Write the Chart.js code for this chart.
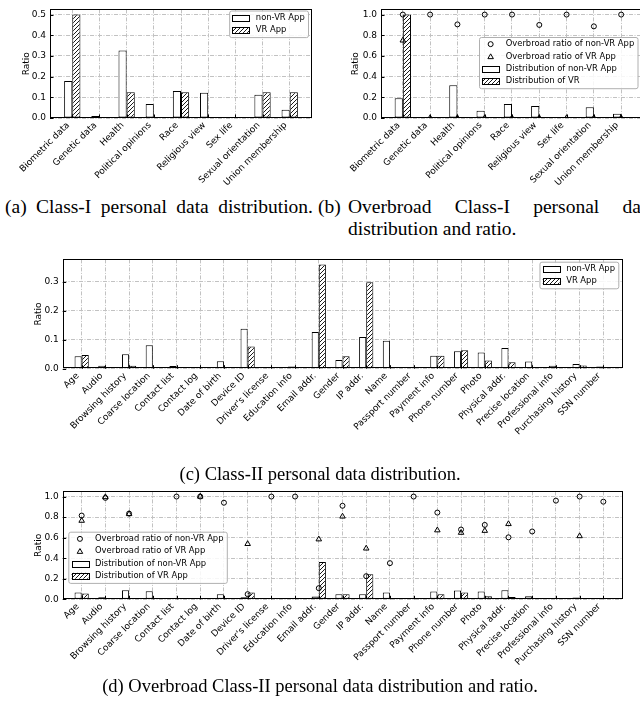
<!DOCTYPE html>
<html>
<head>
<meta charset="utf-8">
<script src="https://cdn.jsdelivr.net/npm/chart.js@4"></script>
<style>
  html, body { margin:0; padding:0; background:#fff; }
  body { width:640px; height:704px; overflow:hidden; position:relative; }
  canvas { position:absolute; }
  .cap { position:absolute; font-family:"Liberation Serif","Times New Roman",serif; font-size:18.5px; line-height:22px; color:#000; }
  .cap.top { font-size:19.5px; }
</style>
</head>
<body>
<canvas id="figA" width="320" height="195" style="left:0;top:0"></canvas>
<canvas id="figB" width="330" height="195" style="left:320px;top:0"></canvas>
<canvas id="figC" width="640" height="200" style="left:0;top:250px"></canvas>
<canvas id="figD" width="640" height="200" style="left:0;top:482px"></canvas>

<div class="cap top" style="left:5px;top:196px;width:308px;text-align:justify;text-align-last:justify;">(a) Class-I personal data distribution.</div>
<div class="cap top" style="left:318px;top:196px;">(b)</div>
<div class="cap top" style="left:348px;top:196px;width:307px;text-align:justify;">Overbroad Class-I personal data distribution and ratio.</div>
<div class="cap" style="left:0;top:463px;width:640px;text-align:center;">(c) Class-II personal data distribution.</div>
<div class="cap" style="left:0;top:675px;width:640px;text-align:center;">(d) Overbroad Class-II personal data distribution and ratio.</div>

<script>
// ---- data ---------------------------------------------------------------
const class1Cats = ['Biometric data','Genetic data','Health','Political opinions','Race',
  'Religious view','Sex life','Sexual orientation','Union membership'];
const class1NonVR = [0.179, 0.010, 0.326, 0.068, 0.131, 0.122, 0.005, 0.113, 0.040];
const class1VR    = [0.500, 0.000, 0.125, 0.000, 0.125, 0.000, 0.000, 0.125, 0.125];

const ob1NonVRDist  = [0.190, 0.010, 0.317, 0.070, 0.135, 0.115, 0.005, 0.105, 0.040];
const ob1VRDist     = [1.000, 0, 0, 0, 0, 0, 0, 0, 0];
const ob1NonVRRatio = [1.000, 1.000, 0.905, 1.000, 1.000, 0.900, 1.000, 0.886, 1.000];
const ob1VRRatio    = [0.750, 0, 0, 0, 0, 0, 0, 0, 0];

const class2Cats = ['Age','Audio','Browsing history','Coarse location','Contact list','Contact log',
  'Date of birth','Device ID',"Driver's license",'Education info','Email addr.','Gender','IP addr.',
  'Name','Passport number','Payment info','Phone number','Photo','Physical addr.','Precise location',
  'Professional info','Purchasing history','SSN number'];
const class2NonVR = [0.043,0.010,0.050,0.081,0.009,0.002,0.026,0.138,0.004,0.008,0.127,0.030,
  0.110,0.097,0.004,0.045,0.060,0.056,0.072,0.025,0.010,0.016,0.008];
const class2VR    = [0.047,0.003,0.010,0,0,0,0,0.077,0,0,0.360,0.043,
  0.299,0,0,0.045,0.064,0.028,0.022,0.002,0,0.011,0.002];

const ob2NonVRDist  = [0.067,0.019,0.088,0.079,0.012,0.002,0.050,0.019,0.003,0.008,0.028,0.050,
  0.050,0.067,0.002,0.076,0.086,0.076,0.087,0.030,0.010,0.018,0.007];
const ob2VRDist     = [0.057,0,0.010,0,0.003,0,0,0.067,0,0,0.362,0.050,
  0.244,0,0.003,0.048,0.067,0.030,0.022,0.002,0.002,0.008,0.002];
const ob2NonVRRatio = [0.815,0.987,0.834,null,1.000,1.000,0.940,0.050,1.000,1.000,0.108,0.910,
  0.225,0.352,1.000,0.844,0.679,0.724,0.603,0.660,0.960,1.000,0.950];
const ob2VRRatio    = [0.765,0.995,0.830,null,null,1.000,null,0.539,null,null,0.584,0.806,
  0.495,null,null,0.672,0.648,0.667,0.733,null,null,0.615,null];

const ticksSmall = [0, 0.1, 0.2, 0.3, 0.4, 0.5];
const ticksClass2 = [0, 0.1, 0.2, 0.3];
const ticksRatio = [0, 0.2, 0.4, 0.6, 0.8, 1.0];

// ---- styling helpers ----------------------------------------------------
Chart.defaults.font.family = '"DejaVu Sans", sans-serif';
Chart.defaults.font.size = 9;
Chart.defaults.color = '#000';
Chart.defaults.animation = false;

const GRID = '#c2c2c2', DASH = [4, 1.5, 1, 1.5];

function hatch() {
  const c = document.createElement('canvas'); c.width = c.height = 4;
  const g = c.getContext('2d');
  g.fillStyle = '#fff'; g.fillRect(0, 0, 4, 4);
  g.strokeStyle = '#000'; g.lineWidth = 0.9;
  g.beginPath();
  g.moveTo(0, 4); g.lineTo(4, 0);
  g.moveTo(-1, 1); g.lineTo(1, -1);
  g.moveTo(3, 5); g.lineTo(5, 3);
  g.stroke();
  return g.createPattern(c, 'repeat');
}
const HATCH = hatch();

const bars = (label, vals, fill) => ({ type:'bar', label, data: vals.map((v,i)=>({x:i, y:v})),
  backgroundColor: fill, borderColor:'#000', borderWidth:1, borderSkipped:false,
  categoryPercentage:0.6, barPercentage:1 });
const marks = (label, vals, style, r) => ({ type:'line', label, data: vals.map((v,i)=>({x:i, y:v})),
  showLine:false, pointStyle:style, pointRadius:r, pointHoverRadius:r, pointBorderWidth:1,
  pointBorderColor:'#000', pointBackgroundColor:'rgba(0,0,0,0)' });

/** frame round the plot + inward ticks (matplotlib look) */
const framePlugin = {
  id: 'frame',
  afterDatasetsDraw(chart) {
    const { ctx, chartArea: a, scales: { x, y } } = chart;
    ctx.save();
    ctx.strokeStyle = '#000'; ctx.lineWidth = 1;
    ctx.beginPath();
    x.ticks.forEach(t => { const p = Math.round(x.getPixelForValue(t.value)) + .5;
      ctx.moveTo(p, a.bottom); ctx.lineTo(p, a.bottom - 3.5); });
    y.ticks.forEach(t => { const p = Math.round(y.getPixelForValue(t.value)) + .5;
      ctx.moveTo(a.left, p); ctx.lineTo(a.left + 3.5, p); });
    ctx.stroke();
    ctx.strokeRect(Math.round(a.left) + .5, Math.round(a.top) + .5,
      Math.round(a.right - a.left) - 1, Math.round(a.bottom - a.top) - 1);
    ctx.restore();
  }
};

/** legend box drawn inside the plot, placed like matplotlib's */
const boxLegend = {
  id: 'boxLegend',
  afterDraw(chart, args, o) {
    const ctx = chart.ctx, fs = 8.4, rowH = 12.3, pad = 3.3, hl = 16.7, gap = 6.7;
    const items = chart.data.datasets;
    ctx.save();
    ctx.font = fs + 'px "DejaVu Sans", sans-serif';
    const tw = Math.max(...items.map(d => ctx.measureText(d.label).width));
    const w = pad + hl + gap + tw + pad, h = items.length * rowH + 2;
    const x0 = o.right != null ? o.right - w : o.left, y0 = o.top;
    ctx.fillStyle = 'rgba(255,255,255,0.85)'; ctx.strokeStyle = '#b0b0b0'; ctx.lineWidth = 1;
    ctx.beginPath();
    if (ctx.roundRect) ctx.roundRect(x0 + .5, y0 + .5, w, h, 2); else ctx.rect(x0 + .5, y0 + .5, w, h);
    ctx.fill(); ctx.stroke();
    items.forEach((d, i) => {
      const cy = y0 + 1 + rowH / 2 + i * rowH, hx = x0 + pad;
      ctx.strokeStyle = '#000'; ctx.lineWidth = 1;
      if (d.type === 'bar') {
        ctx.fillStyle = d.backgroundColor;
        ctx.fillRect(hx, cy - 2.9, hl, 5.8);
        ctx.strokeRect(Math.round(hx) + .5, Math.round(cy - 2.9) + .5, Math.round(hl), 6);
      } else {
        const cx = hx + hl / 2, r = d.pointRadius;
        ctx.beginPath();
        if (d.pointStyle === 'circle') ctx.arc(cx, cy, r, 0, Math.PI * 2);
        else { for (let k = 0; k < 3; k++) { const t = k * 2 * Math.PI / 3;
          ctx[k ? 'lineTo' : 'moveTo'](cx + Math.sin(t) * r, cy + 0.6 - Math.cos(t) * r); } ctx.closePath(); }
        ctx.stroke();
      }
      ctx.fillStyle = '#000'; ctx.textBaseline = 'middle'; ctx.textAlign = 'left';
      ctx.fillText(d.label, hx + hl + gap, cy);
    });
    ctx.restore();
  }
};

function makeChart(id, cats, xr, datasets, yTicks, ymax, L, legend) {
  return new Chart(document.getElementById(id), {
    type: 'bar',
    data: { datasets },
    plugins: [framePlugin, boxLegend],
    options: {
      responsive: false, devicePixelRatio: 1,
      layout: { padding: { top: L.top, right: L.right, left: 0, bottom: 0 } },
      plugins: { legend: { display: false }, tooltip: { enabled: false }, boxLegend: legend },
      scales: {
        x: { type: 'linear', min: xr[0], max: xr[1], bounds: 'data', offset: false,
          grid: { color: GRID, lineWidth: 1, drawTicks: false, offset: false },
          border: { display: false, dash: DASH },
          afterBuildTicks: s => { s.ticks = cats.map((_, i) => ({ value: i })); },
          afterFit: s => { s.height = L.xH; },
          ticks: { autoSkip: false, minRotation: 45, maxRotation: 45, padding: 2, labelOffset: -4,
            callback: v => cats[v] } },
        y: { type: 'linear', min: 0, max: ymax, bounds: 'data',
          grid: { color: GRID, lineWidth: 1, drawTicks: false },
          border: { display: false, dash: DASH },
          afterBuildTicks: s => { s.ticks = yTicks.map(v => ({ value: v })); },
          afterFit: s => { s.width = L.yW; },
          ticks: { padding: 4, callback: v => v.toFixed(1) },
          title: { display: true, text: 'Ratio', font: { size: 9 }, padding: { top: L.tp, bottom: 0 } } }
      }
    }
  });
}

makeChart('figA', class1Cats, [-0.82, 8.82],
  [bars('non-VR App', class1NonVR, '#fff'), bars('VR App', class1VR, HATCH)],
  ticksSmall, 0.525, { top: 7, right: 8, yW: 50, xH: 77, tp: 21.6 }, { right: 308, top: 10.5 });

makeChart('figB', class1Cats, [-0.8, 8.8],
  [marks('Overbroad ratio of non-VR App', ob1NonVRRatio, 'circle', 2.5),
   marks('Overbroad ratio of VR App', ob1VRRatio, 'triangle', 3.2),
   bars('Distribution of non-VR App', ob1NonVRDist, '#fff'),
   bars('Distribution of VR', ob1VRDist, HATCH)],
  ticksRatio, 1.05, { top: 7, right: 7, yW: 61, xH: 77, tp: 30.6 }, { left: 159, top: 37 });

makeChart('figC', class2Cats, [-0.8, 22.8],
  [bars('non-VR App', class2NonVR, '#fff'), bars('VR App', class2VR, HATCH)],
  ticksClass2, 0.378, { top: 7.7, right: 17.7, yW: 62.7, xH: 81.3, tp: 33.6 }, { right: 618.3, top: 11.7 });

makeChart('figD', class2Cats, [-0.8, 22.8],
  [marks('Overbroad ratio of non-VR App', ob2NonVRRatio, 'circle', 2.5),
   marks('Overbroad ratio of VR App', ob2VRRatio, 'triangle', 3.2),
   bars('Distribution of non-VR App', ob2NonVRDist, '#fff'),
   bars('Distribution of VR App', ob2VRDist, HATCH)],
  ticksRatio, 1.05, { top: 7, right: 17.7, yW: 62.7, xH: 82.7, tp: 33.6 }, { left: 68.3, top: 49.7 });
</script>
</body>
</html>
